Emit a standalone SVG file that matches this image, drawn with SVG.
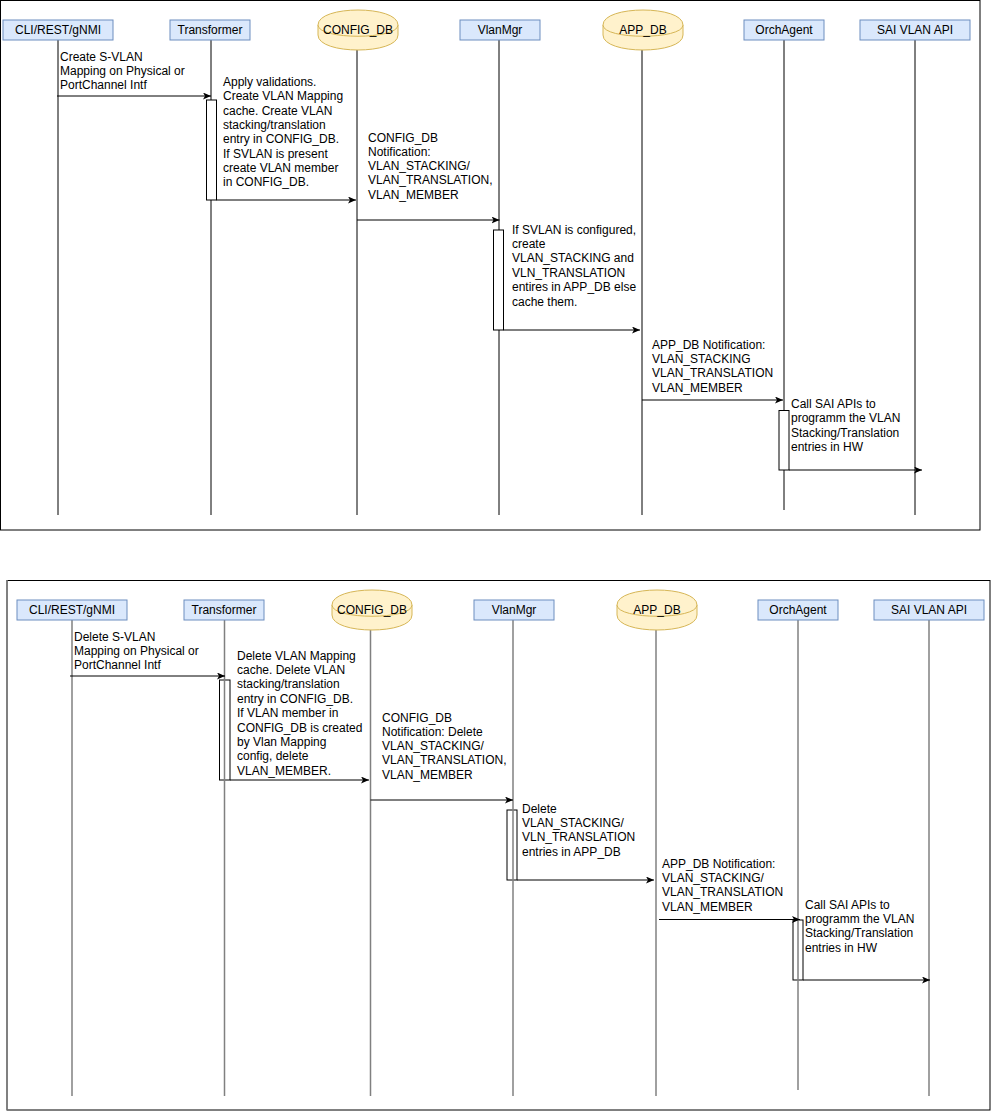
<svg xmlns="http://www.w3.org/2000/svg" width="991" height="1111" viewBox="0 0 991 1111">
<style>
text{font-family:"Liberation Sans",Arial,sans-serif;font-size:12px;fill:#000}
.hdr{fill:#dae8fc;stroke:#6c8ebf;stroke-width:1}
.cyl{fill:#fff2cc;stroke:#d6b656;stroke-width:1}
.c{text-anchor:middle}
.ll{stroke:#000;stroke-width:1;fill:none}
.ll2{stroke:#808080;stroke-width:1.5;fill:none}
.act{fill:#fff;stroke:#000;stroke-width:1}
.msg{stroke:#000;stroke-width:1;fill:none;marker-end:url(#arr)}
.frame{fill:none;stroke:#000;stroke-width:1}
</style>
<defs>
<marker id="arr" markerUnits="userSpaceOnUse" markerWidth="10" markerHeight="8" refX="8" refY="3.5" orient="auto">
<path d="M0,0 L8,3.5 L0,7 L2,3.5 Z" fill="#000"/>
</marker>
</defs>
<rect x="0" y="0" width="991" height="1111" fill="#fff"/>

<!-- ===== TOP DIAGRAM ===== -->
<rect class="frame" x="0.5" y="0.5" width="979.5" height="529.5"/>

<g id="t-cli">
<line class="ll" x1="58" y1="40" x2="58" y2="515"/>
<rect class="hdr" x="3" y="20" width="110" height="20"/>
<text class="c" x="58" y="34">CLI/REST/gNMI</text>
</g>
<g id="t-transformer">
<line class="ll" x1="211" y1="40" x2="211" y2="515"/>
<rect class="hdr" x="170" y="20" width="80" height="20"/>
<text class="c" x="210" y="34">Transformer</text>
<rect class="act" x="206.5" y="100" width="10" height="100"/>
</g>
<g id="t-configdb">
<line class="ll" x1="357" y1="50" x2="357" y2="515"/>
<path class="cyl" d="M318,25 C318,5 398,5 398,25 L398,35 C398,55 318,55 318,35 Z"/>
<path class="cyl" fill="none" d="M318,25 C318,40 398,40 398,25"/>
<text class="c" x="358" y="33.5">CONFIG_DB</text>
</g>
<g id="t-vlanmgr">
<line class="ll" x1="499" y1="40" x2="499" y2="515"/>
<rect class="hdr" x="460" y="20" width="80" height="20"/>
<text class="c" x="500" y="34">VlanMgr</text>
<rect class="act" x="493.5" y="230" width="10" height="100"/>
</g>
<g id="t-appdb">
<line class="ll" x1="642" y1="50" x2="642" y2="515"/>
<path class="cyl" d="M603,25 C603,5 683,5 683,25 L683,35 C683,55 603,55 603,35 Z"/>
<path class="cyl" fill="none" d="M603,25 C603,40 683,40 683,25"/>
<text class="c" x="643" y="33.5">APP_DB</text>
</g>
<g id="t-orchagent">
<line class="ll" x1="784" y1="40" x2="784" y2="510"/>
<rect class="hdr" x="744" y="20" width="80" height="20"/>
<text class="c" x="784" y="34">OrchAgent</text>
<rect class="act" x="779" y="410.5" width="10" height="59.5"/>
</g>
<g id="t-sai">
<line class="ll" x1="915" y1="40" x2="915" y2="515"/>
<rect class="hdr" x="860" y="20" width="110" height="20"/>
<text class="c" x="915" y="34">SAI VLAN API</text>
</g>

<g id="t-connectors">
<line class="msg" x1="57" y1="96" x2="211" y2="96"/>
<line class="msg" x1="216.5" y1="200" x2="356" y2="200"/>
<line class="msg" x1="357" y1="220" x2="499.5" y2="220"/>
<line class="msg" x1="503.5" y1="330" x2="640" y2="330"/>
<line class="msg" x1="642" y1="400" x2="783" y2="400"/>
<line class="msg" x1="789" y1="470" x2="922" y2="470"/>
</g>

<g id="t-labels">
<text x="60" y="60.5"><tspan x="60">Create S-VLAN</tspan><tspan x="60" dy="14.4">Mapping on Physical or</tspan><tspan x="60" dy="14.4">PortChannel Intf</tspan></text>
<text x="223" y="86"><tspan x="223">Apply validations.</tspan><tspan x="223" dy="14.35">Create VLAN Mapping</tspan><tspan x="223" dy="14.35">cache. Create VLAN</tspan><tspan x="223" dy="14.35">stacking/translation</tspan><tspan x="223" dy="14.35">entry in CONFIG_DB.</tspan><tspan x="223" dy="14.35">If SVLAN is present</tspan><tspan x="223" dy="14.35">create VLAN member</tspan><tspan x="223" dy="14.35">in CONFIG_DB.</tspan></text>
<text x="368" y="141.5"><tspan x="368">CONFIG_DB</tspan><tspan x="368" dy="14.3">Notification:</tspan><tspan x="368" dy="14.3">VLAN_STACKING/</tspan><tspan x="368" dy="14.3">VLAN_TRANSLATION,</tspan><tspan x="368" dy="14.3">VLAN_MEMBER</tspan></text>
<text x="512" y="233.5"><tspan x="512">If SVLAN is configured,</tspan><tspan x="512" dy="14.4">create</tspan><tspan x="512" dy="14.4">VLAN_STACKING and</tspan><tspan x="512" dy="14.4">VLN_TRANSLATION</tspan><tspan x="512" dy="14.4">entires in APP_DB else</tspan><tspan x="512" dy="14.4">cache them.</tspan></text>
<text x="652" y="348.5"><tspan x="652">APP_DB Notification:</tspan><tspan x="652" dy="14.4">VLAN_STACKING</tspan><tspan x="652" dy="14.4">VLAN_TRANSLATION</tspan><tspan x="652" dy="14.4">VLAN_MEMBER</tspan></text>
<text x="791" y="407.5"><tspan x="791">Call SAI APIs to</tspan><tspan x="791" dy="14.6">programm the VLAN</tspan><tspan x="791" dy="14.6">Stacking/Translation</tspan><tspan x="791" dy="14.6">entries in HW</tspan></text>
</g>

<!-- ===== BOTTOM DIAGRAM ===== -->
<rect class="frame" x="7" y="580.5" width="983" height="529.5"/>
<line x1="7" y1="580" x2="7" y2="1110" stroke="#808080" stroke-width="1.5"/>

<g id="b-cli">
<line class="ll2" x1="72" y1="620" x2="72" y2="1096"/>
<rect class="hdr" x="17" y="600" width="110" height="20"/>
<text class="c" x="72" y="614">CLI/REST/gNMI</text>
</g>
<g id="b-transformer">
<rect class="act" x="219.5" y="680" width="10.5" height="100"/>
<line class="ll2" x1="224.5" y1="620" x2="224.5" y2="1096"/>
<rect class="hdr" x="184" y="600" width="80" height="20"/>
<text class="c" x="224" y="614">Transformer</text>
</g>
<g id="b-configdb">
<line class="ll2" x1="370.5" y1="630" x2="370.5" y2="1096"/>
<path class="cyl" d="M332,605 C332,585 412,585 412,605 L412,615 C412,635 332,635 332,615 Z"/>
<path class="cyl" fill="none" d="M332,605 C332,620 412,620 412,605"/>
<text class="c" x="372" y="613.5">CONFIG_DB</text>
</g>
<g id="b-vlanmgr">
<rect class="act" x="507" y="810" width="10" height="70"/>
<line class="ll2" x1="513" y1="620" x2="513" y2="1096"/>
<rect class="hdr" x="474" y="600" width="80" height="20"/>
<text class="c" x="514" y="614">VlanMgr</text>
</g>
<g id="b-appdb">
<line class="ll2" x1="656" y1="630" x2="656" y2="1096"/>
<path class="cyl" d="M617,605 C617,585 697,585 697,605 L697,615 C697,635 617,635 617,615 Z"/>
<path class="cyl" fill="none" d="M617,605 C617,620 697,620 697,605"/>
<text class="c" x="657" y="613.5">APP_DB</text>
</g>
<g id="b-orchagent">
<rect class="act" x="793" y="920" width="10" height="60"/>
<line class="ll2" x1="798" y1="620" x2="798" y2="1090"/>
<rect class="hdr" x="758" y="600" width="80" height="20"/>
<text class="c" x="798" y="614">OrchAgent</text>
</g>
<g id="b-sai">
<line class="ll2" x1="929" y1="620" x2="929" y2="1096"/>
<rect class="hdr" x="874" y="600" width="110" height="20"/>
<text class="c" x="929" y="614">SAI VLAN API</text>
</g>

<g id="b-connectors">
<line class="msg" x1="70" y1="676" x2="225" y2="676"/>
<line class="msg" x1="230" y1="780" x2="369" y2="780"/>
<line class="msg" x1="370.5" y1="800" x2="513" y2="800"/>
<line class="msg" x1="517" y1="880" x2="654" y2="880"/>
<line class="msg" x1="659" y1="919.5" x2="800" y2="919.5"/>
<line class="msg" x1="803" y1="980" x2="930" y2="980"/>
</g>

<g id="b-labels">
<text x="74" y="640.5"><tspan x="74">Delete S-VLAN</tspan><tspan x="74" dy="14.4">Mapping on Physical or</tspan><tspan x="74" dy="14.4">PortChannel Intf</tspan></text>
<text x="237" y="659.5"><tspan x="237">Delete VLAN Mapping</tspan><tspan x="237" dy="14.4">cache. Delete VLAN</tspan><tspan x="237" dy="14.4">stacking/translation</tspan><tspan x="237" dy="14.4">entry in CONFIG_DB.</tspan><tspan x="237" dy="14.4">If VLAN member in</tspan><tspan x="237" dy="14.4">CONFIG_DB is created</tspan><tspan x="237" dy="14.4">by Vlan Mapping</tspan><tspan x="237" dy="14.4">config, delete</tspan><tspan x="237" dy="14.4">VLAN_MEMBER.</tspan></text>
<text x="382" y="721.5"><tspan x="382">CONFIG_DB</tspan><tspan x="382" dy="14.3">Notification: Delete</tspan><tspan x="382" dy="14.3">VLAN_STACKING/</tspan><tspan x="382" dy="14.3">VLAN_TRANSLATION,</tspan><tspan x="382" dy="14.3">VLAN_MEMBER</tspan></text>
<text x="522" y="812.5"><tspan x="522">Delete</tspan><tspan x="522" dy="14.4">VLAN_STACKING/</tspan><tspan x="522" dy="14.4">VLN_TRANSLATION</tspan><tspan x="522" dy="14.4">entries in APP_DB</tspan></text>
<text x="662" y="867.5"><tspan x="662">APP_DB Notification:</tspan><tspan x="662" dy="14.4">VLAN_STACKING/</tspan><tspan x="662" dy="14.4">VLAN_TRANSLATION</tspan><tspan x="662" dy="14.4">VLAN_MEMBER</tspan></text>
<text x="805" y="908.5"><tspan x="805">Call SAI APIs to</tspan><tspan x="805" dy="14.4">programm the VLAN</tspan><tspan x="805" dy="14.4">Stacking/Translation</tspan><tspan x="805" dy="14.4">entries in HW</tspan></text>
</g>
</svg>
